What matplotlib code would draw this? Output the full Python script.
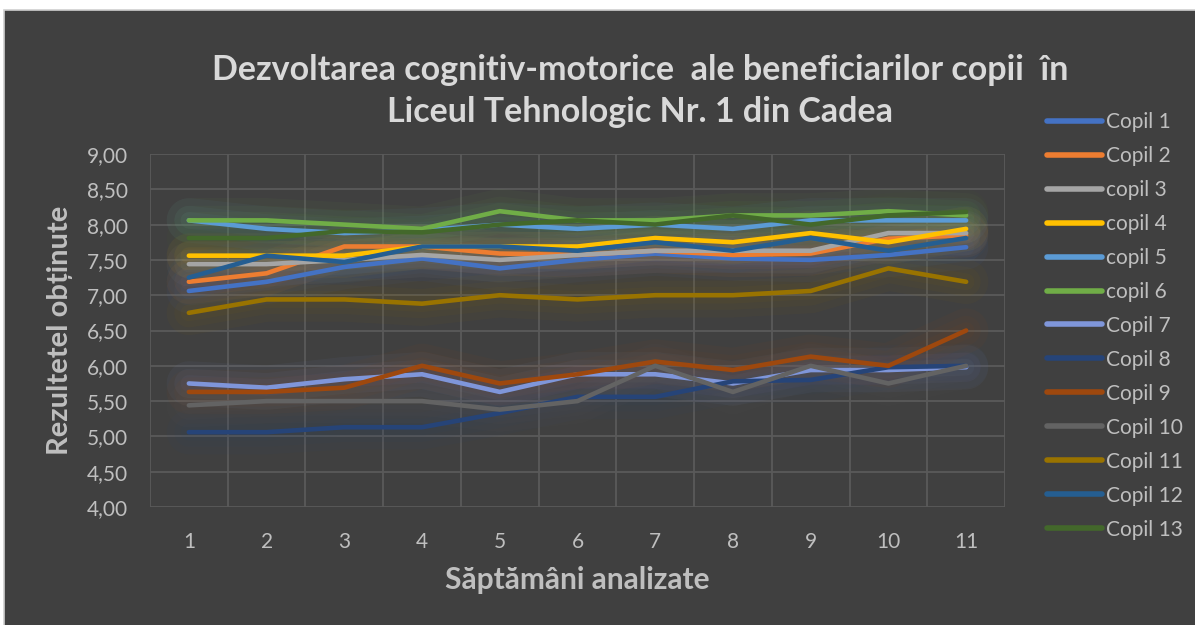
import matplotlib
matplotlib.use('Agg')
import matplotlib.pyplot as plt
from matplotlib.patches import Rectangle

plt.rcParams['font.family'] = ['Lato', 'DejaVu Sans']

# saptamani
weeks = list(range(1, 12))
names = ['Copil 1', 'Copil 2', 'copil 3', 'copil 4', 'copil 5', 'copil 6', 'Copil 7',
         'Copil 8', 'Copil 9', 'Copil 10', 'Copil 11', 'Copil 12', 'Copil 13']

copil1 = [7.06, 7.19, 7.40, 7.52, 7.38, 7.50, 7.59, 7.52, 7.50, 7.57, 7.68]
copil2 = [7.19, 7.31, 7.69, 7.69, 7.59, 7.57, 7.63, 7.57, 7.59, 7.80, 7.85]
copil3 = [7.44, 7.44, 7.50, 7.57, 7.50, 7.57, 7.63, 7.63, 7.63, 7.88, 7.88]
copil4 = [7.56, 7.56, 7.56, 7.69, 7.69, 7.69, 7.81, 7.75, 7.88, 7.75, 7.94]
copil5 = [8.06, 7.94, 7.88, 7.92, 8.00, 7.94, 8.00, 7.94, 8.06, 8.06, 8.06]
copil6 = [8.06, 8.06, 8.00, 7.94, 8.19, 8.06, 8.06, 8.13, 8.13, 8.19, 8.13]
copil7 = [5.75, 5.69, 5.81, 5.88, 5.63, 5.88, 5.88, 5.75, 5.94, 5.94, 5.98]
copil8 = [5.06, 5.06, 5.13, 5.13, 5.33, 5.56, 5.56, 5.78, 5.80, 5.98, 6.00]
copil9 = [5.63, 5.63, 5.69, 6.00, 5.75, 5.88, 6.06, 5.94, 6.13, 6.00, 6.50]
copil10 = [5.44, 5.50, 5.50, 5.50, 5.38, 5.50, 6.00, 5.63, 6.00, 5.75, 6.00]
copil11 = [6.75, 6.94, 6.94, 6.88, 7.00, 6.94, 7.00, 7.00, 7.06, 7.38, 7.19]
copil12 = [7.25, 7.56, 7.47, 7.69, 7.69, 7.63, 7.75, 7.63, 7.81, 7.63, 7.81]
copil13 = [7.81, 7.81, 7.91, 7.89, 8.00, 8.06, 8.00, 8.13, 8.00, 8.13, 8.18]

series = [copil1, copil2, copil3, copil4, copil5, copil6, copil7,
          copil8, copil9, copil10, copil11, copil12, copil13]
colors = ['#4472C4', '#ED7D31', '#A5A5A5', '#FFC000', '#5B9BD5', '#70AD47', '#7F96DA',
          '#264478', '#9E480E', '#636363', '#997300', '#255E91', '#43682B']

yticks = [4 + 0.5 * k for k in range(11)]
ytick_labels = ['%.2f' % v for v in yticks]
ytick_labels = [s.replace('.', ',') for s in ytick_labels]

bg = '#404040'
txt = '#BFBFBF'

fig = plt.figure(figsize=(11.95, 6.25), dpi=100, facecolor='white')
fig.patches.append(Rectangle((4 / 1195, -0.02), 1.0, 1 - 10 / 625 + 0.02,
                             transform=fig.transFigure, facecolor=bg,
                             edgecolor='#d0d0d0', linewidth=1.2, zorder=-10))

ax = fig.add_axes([150 / 1195, 1 - 507 / 625, 855 / 1195, 353 / 625])
ax.set_facecolor(bg)

# glow
for vals, c in zip(series, colors):
    for lw in (32, 21, 12):
        ax.plot(weeks, vals, color=c, lw=lw, alpha=0.055,
                solid_capstyle='round', solid_joinstyle='round', zorder=1)

for vals, c, n in zip(series, colors, names):
    ax.plot(weeks, vals, color=c, lw=3.3, label=n,
            solid_capstyle='round', solid_joinstyle='round', zorder=3)

ax.set_xlim(0.5, 11.5)
ax.set_ylim(4, 9)
ax.set_xticks(weeks)
ax.set_xticks([k + 0.5 for k in range(0, 12)], minor=True)
ax.set_yticks(yticks)
ax.set_yticklabels(ytick_labels)
ax.grid(which='minor', axis='x', color='#5a5a5a', lw=1.3)
ax.grid(which='major', axis='y', color='#5a5a5a', lw=1.3)
ax.set_axisbelow(True)
ax.tick_params(which='both', length=0)
ax.tick_params(axis='y', pad=16, labelsize=15, labelcolor=txt)
ax.tick_params(axis='x', pad=18, labelsize=15, labelcolor=txt)
for s in ax.spines.values():
    s.set_visible(False)

ax.set_xlabel('Săptămâni analizate', fontsize=21.5, fontweight='bold', color=txt, labelpad=10)
ax.set_ylabel('Rezultetel obținute', fontsize=21, fontweight='bold', color=txt, labelpad=10)

fig.text(640 / 1195, 1 - 91 / 625,
         'Dezvoltarea cognitiv-motorice  ale beneficiarilor copii  în\nLiceul Tehnologic Nr. 1 din Cadea',
         ha='center', va='center', fontsize=24.5, fontweight='bold', color='#D9D9D9',
         linespacing=1.4)

leg = fig.legend(loc='upper left', bbox_to_anchor=(1047 / 1195, 1 - 112 / 625),
                 frameon=False, fontsize=15, handlelength=2.65, handletextpad=0.2,
                 labelspacing=0.67, borderpad=0, borderaxespad=0)
for t in leg.get_texts():
    t.set_color(txt)
for h in leg.get_lines():
    h.set_linewidth(4)

fig.savefig('out.png', dpi=100, facecolor='white')
